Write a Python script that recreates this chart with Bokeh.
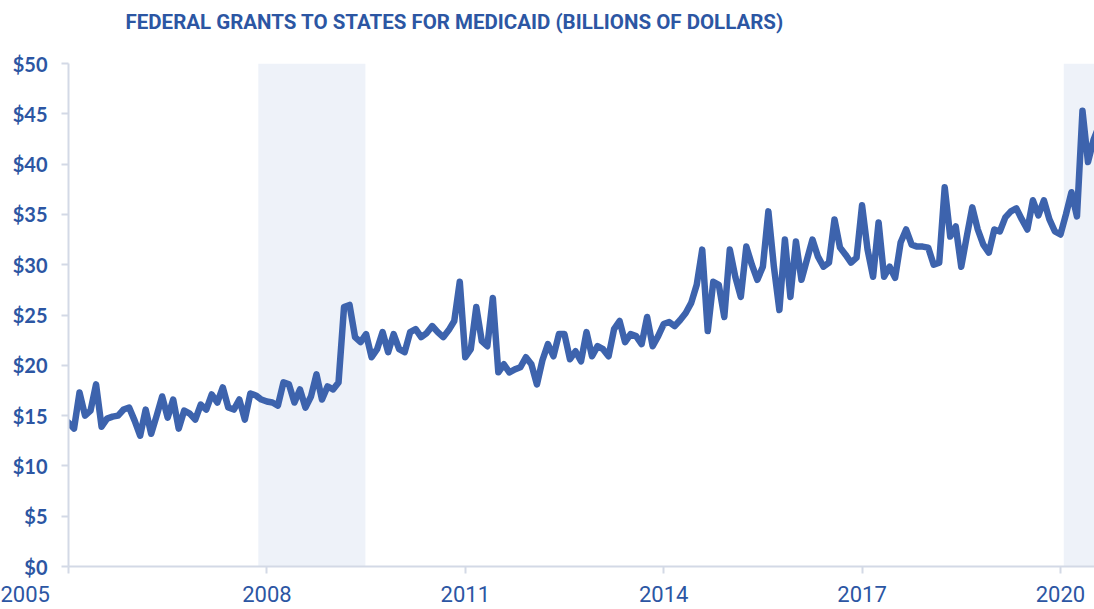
import numpy as np
from bokeh.plotting import figure
from bokeh.models import FixedTicker, NumeralTickFormatter, Range1d, ColumnDataSource
from bokeh.embed import file_html
from bokeh.resources import INLINE

# Monthly federal grants to states for Medicaid, billions of dollars (Jan 2005 onward)
values = [
    14.3, 13.7, 17.3, 15.0, 15.5, 18.1, 13.9, 14.7, 14.9, 15.0, 15.6, 15.8,
    14.5, 13.0, 15.6, 13.2, 15.0, 16.9, 14.8, 16.6, 13.7, 15.5, 15.2, 14.6,
    16.1, 15.6, 17.1, 16.3, 17.8, 15.8, 15.6, 16.6, 14.6, 17.2, 17.0, 16.6,
    16.4, 16.3, 16.0, 18.3, 18.1, 16.3, 17.6, 15.8, 16.9, 19.1, 16.6, 17.9,
    17.6, 18.3, 25.8, 26.0, 22.8, 22.3, 23.1, 20.8, 21.6, 23.3, 21.3, 23.1,
    21.6, 21.3, 23.3, 23.6, 22.8, 23.2, 23.9, 23.3, 22.8, 23.5, 24.4, 28.3,
    20.8, 21.6, 25.8, 22.4, 21.9, 26.7, 19.3, 20.1, 19.3, 19.6, 19.8, 20.8,
    20.1, 18.1, 20.5, 22.1, 20.9, 23.1, 23.1, 20.6, 21.4, 20.4, 23.3, 20.9,
    21.9, 21.6, 20.9, 23.6, 24.4, 22.3, 23.1, 22.9, 22.1, 24.8, 21.9, 22.9,
    24.1, 24.3, 23.9, 24.5, 25.2, 26.2, 28.0, 31.5, 23.4, 28.3, 28.0, 24.8,
    31.5, 28.8, 26.8, 31.8, 30.0, 28.5, 29.8, 35.3, 29.8, 25.5, 32.5, 26.8,
    32.3, 28.5, 30.5, 32.5, 30.8, 29.8, 30.2, 34.5, 31.7, 31.0, 30.2, 30.7,
    35.9, 31.5, 28.8, 34.2, 28.8, 29.8, 28.7, 32.2, 33.5, 32.0, 31.8, 31.8,
    31.7, 30.0, 30.2, 37.7, 32.8, 33.8, 29.8, 32.8, 35.7, 33.5, 32.0, 31.2,
    33.5, 33.3, 34.7, 35.3, 35.6, 34.5, 33.5, 36.4, 34.9, 36.4, 34.5, 33.3,
    33.0, 35.0, 37.2, 34.8, 45.3, 40.2, 42.4, 43.8,
]
start_year = 2005
rec_start = [2007.87, 2020.05]
rec_end = [2009.49, 2020.70]
y_ticks = [0, 5, 10, 15, 20, 25, 30, 35, 40, 45, 50]
x_ticks = [2005, 2008, 2011, 2014, 2017, 2020]
title_text = "FEDERAL GRANTS TO STATES FOR MEDICAID (BILLIONS OF DOLLARS)"

x = start_year + np.arange(len(values)) / 12.0
src = ColumnDataSource(dict(x=x, y=values))
rec = ColumnDataSource(dict(left=rec_start, right=rec_end,
                            bottom=[y_ticks[0]] * 2, top=[y_ticks[-1]] * 2))

BLUE_TXT = "#2c56a3"
LINE = "#3d63ad"
AXIS = "#d3d9e6"

p = figure(width=1094, height=609, output_backend="svg", toolbar_location=None,
           x_range=Range1d(2005, 2020.515), y_range=Range1d(0, 50),
           min_border_left=68, min_border_right=0, min_border_top=63,
           min_border_bottom=41)
p.outline_line_color = None
p.grid.visible = False
p.background_fill_color = "white"

p.quad(left="left", right="right", bottom="bottom", top="top", source=rec,
       fill_color="#eef2f9", line_color=None)
p.line("x", "y", source=src, line_color=LINE, line_width=6.5,
       line_join="round", line_cap="round")

# Y axis
ya = p.yaxis[0]
ya.ticker = FixedTicker(ticks=y_ticks)
ya.formatter = NumeralTickFormatter(format="$0")
ya.axis_line_color = AXIS
ya.axis_line_width = 2
ya.major_tick_line_color = AXIS
ya.major_tick_line_width = 2
ya.major_tick_in = 0
ya.major_tick_out = 7
ya.minor_tick_line_color = None
ya.major_label_standoff = 14
ya.major_label_text_font = "Lato"
ya.major_label_text_font_style = "bold"
ya.major_label_text_font_size = "20px"
ya.major_label_text_color = BLUE_TXT

# X axis (first label sits left of the axis corner, as in the original)
xa = p.xaxis[0]
xa.ticker = FixedTicker(ticks=x_ticks)
xa.major_label_overrides = {x_ticks[0]: str(x_ticks[0]) + "\u00a0" * 16}
xa.axis_line_color = AXIS
xa.axis_line_width = 2
xa.major_tick_line_color = AXIS
xa.major_tick_line_width = 2
xa.major_tick_in = 0
xa.major_tick_out = 7
xa.minor_tick_line_color = None
xa.major_label_standoff = 8
xa.major_label_text_font = "Roboto"
xa.major_label_text_font_size = "22px"
xa.major_label_text_color = BLUE_TXT

# trailing empty line lifts the title toward the top edge, as in the original
p.title.text = title_text + "\n "
p.title.align = "left"
p.title.offset = 57
p.title.standoff = 11
p.title.text_font = "Roboto"
p.title.text_font_style = "bold"
p.title.text_font_size = "20.5px"
p.title.text_color = BLUE_TXT

open("out.html", "w").write(file_html(p, INLINE))
